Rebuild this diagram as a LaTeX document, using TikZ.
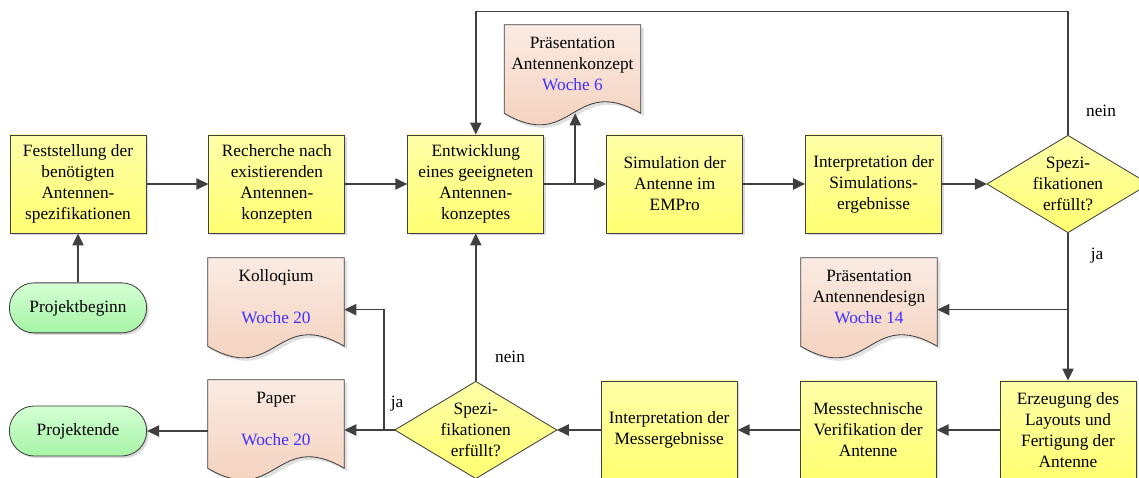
\documentclass[tikz,border=0pt]{standalone}
\usepackage{fontspec}
\setmainfont{Liberation Serif}
\usetikzlibrary{positioning,calc,arrows.meta,shapes.geometric,shadows,backgrounds}

\definecolor{linegray}{HTML}{404040}
\definecolor{boxtop}{HTML}{FFFFA8}
\definecolor{boxbot}{HTML}{FFFF72}
\definecolor{doctop}{HTML}{FAEBE3}
\definecolor{docbot}{HTML}{F3CCB6}
\definecolor{termtop}{HTML}{D4FFD4}
\definecolor{termbot}{HTML}{A6F4A6}
\definecolor{woche}{HTML}{4030FF}

% document symbol with wavy bottom, drawn behind a named node
\newcommand{\docshape}[1]{%
  \fill[black,opacity=0.12] ($(#1.north west)+(3,3)$) -- ($(#1.north east)+(3,3)$)
    -- ($(#1.south east)+(3,13)$) .. controls ($(#1.south)+(3,-27)$) and ($(#1.south)+(3,53)$) .. ($(#1.south west)+(3,13)$) -- cycle;
  \draw[docline] (#1.north west) -- (#1.north east)
    -- ($(#1.south east)+(0,10)$) .. controls ($(#1.south)+(0,-30)$) and ($(#1.south)+(0,50)$) .. ($(#1.south west)+(0,10)$) -- cycle;}

\begin{document}
\begin{tikzpicture}[x=0.025cm,y=-0.025cm,
    font=\rmfamily\fontsize{12.3}{14.9}\selectfont,
    taskbox/.style={rectangle,draw=linegray,line width=0.6pt,top color=boxtop,bottom color=boxbot,
      minimum width=3.4cm,minimum height=2.45cm,align=center,inner sep=1pt,
      drop shadow={shadow xshift=1.5pt,shadow yshift=-1.5pt,fill=black,opacity=0.15}},
    decision/.style={diamond,aspect=1.67,draw=linegray,line width=0.6pt,top color=boxtop,bottom color=boxbot,
      minimum width=4.05cm,minimum height=2.43cm,align=center,inner sep=-0.1cm,outer sep=0pt},
    terminal/.style={rectangle,rounded corners=0.62cm,draw=linegray,line width=0.6pt,
      top color=termtop,bottom color=termbot,minimum width=3.43cm,minimum height=1.25cm,
      drop shadow={shadow xshift=1.5pt,shadow yshift=-1.5pt,fill=black,opacity=0.15}},
    docbox/.style={rectangle,minimum width=3.4cm,minimum height=1.95cm,align=center,inner sep=1pt},
    docline/.style={draw=linegray,line width=0.6pt,top color=doctop,bottom color=docbot},
    arrow/.style={draw=linegray,line width=1.1pt,-{Triangle[length=0.3cm,width=0.28cm]}},
    answer/.style={inner sep=0pt}]
  \useasboundingbox (0,0) rectangle (1139,478);

  % upper row
  \node[taskbox] (spez) at (78,184) {Feststellung der\\benötigten\\Antennen-\\spezifikationen};
  \node[taskbox] (recherche) [right=1.55cm of spez] {Recherche nach\\existierenden\\Antennen-\\konzepten};
  \node[taskbox] (entw) [right=1.55cm of recherche] {Entwicklung\\eines geeigneten\\Antennen-\\konzeptes};
  \node[taskbox] (sim) [right=1.55cm of entw] {Simulation der\\Antenne im\\EMPro};
  \node[taskbox] (simint) [right=1.55cm of sim] {Interpretation der\\Simulations-\\ergebnisse};
  \node[decision] (spec1) at (1068,184) {Spezi-\\fikationen\\erfüllt?};
  \node[terminal] (beginn) [below=1.225cm of spez] {Projektbeginn};

  % lower row
  \node[taskbox] (layout) at (1068,430) {Erzeugung des\\Layouts und\\Fertigung der\\Antenne};
  \node[taskbox] (messung) [left=1.575cm of layout] {Messtechnische\\Verifikation der\\Antenne};
  \node[taskbox] (messint) [left=1.55cm of messung] {Interpretation der\\Messergebnisse};
  \node[decision] (spec2) at (entw |- messint) {Spezi-\\fikationen\\erfüllt?};
  \node[terminal] (ende) at (78,431) {Projektende};

  % documents
  \node[docbox] (konzdoc) at (572.5,64) {Präsentation\\Antennenkonzept\\\textcolor{woche}{Woche 6}};
  \node[docbox] (designdoc) at (869,297) {Präsentation\\Antennendesign\\\textcolor{woche}{Woche 14}};
  \node[docbox] (kolloqdoc) at (276,297) {Kolloqium\\~\\\textcolor{woche}{Woche 20}};
  \node[docbox] (paperdoc) at (276,419) {Paper\\~\\\textcolor{woche}{Woche 20}};
  \begin{pgfonlayer}{background}
    \docshape{konzdoc}
    \docshape{designdoc}
    \docshape{kolloqdoc}
    \docshape{paperdoc}
  \end{pgfonlayer}

  % answers
  \node[answer] (nein1) at (1101,111) {nein};
  \node[answer] (ja1) at (1097,256) {ja};
  \node[answer] (ja2) at (397,404) {ja};
  \node[answer] (nein2) at (510,357) {nein};

  \coordinate (kb1) at ($(entw.east)!0.5!(sim.west)$);
  \coordinate (jr) at ($(spec1.south)+(0,77)$);
  \coordinate (kb2) at ($(spec2.west)+(-11,0)$);

  \draw[arrow] (beginn) -- (spez);
  \draw[arrow] (spez) -- (recherche);
  \draw[arrow] (recherche) -- (entw);
  \draw[arrow] (entw) -- (sim);
  \draw[arrow] (kb1) -- ($(kb1 |- konzdoc.south)+(0,10)$);
  \draw[arrow] (sim) -- (simint);
  \draw[arrow] (simint) -- (spec1);
  \draw[arrow] (spec1.north) -- ++(0,-124) -| (entw.north);
  \draw[arrow] (spec1.south) -- (layout.north);
  \draw[arrow] (jr) -- (jr -| designdoc.east);
  \draw[arrow] (layout) -- (messung);
  \draw[arrow] (messung) -- (messint);
  \draw[arrow] (messint) -- (spec2);
  \draw[arrow] (spec2.north) -- (entw.south);
  \draw[arrow] (spec2.west) -- (spec2.west -| paperdoc.east);
  \draw[arrow] (kb2) |- (kolloqdoc.east |- jr);
  \draw[arrow] (paperdoc.west |- ende.east) -- (ende.east);
\end{tikzpicture}
\end{document}
